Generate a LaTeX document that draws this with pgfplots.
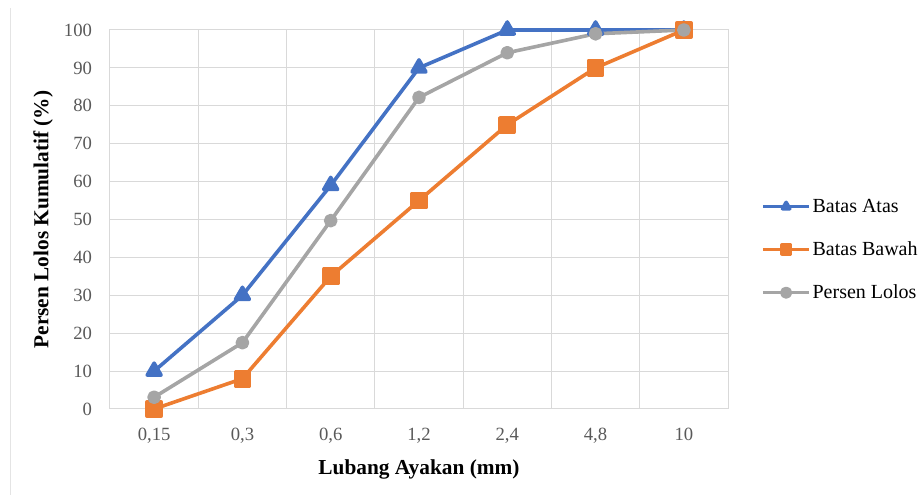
\documentclass[border=0pt]{standalone}
\usepackage{fontspec}
\setmainfont{Liberation Serif}
\usepackage{pgfplots}
\pgfplotsset{compat=1.18}
\definecolor{cA}{HTML}{4472C4}
\definecolor{cB}{HTML}{ED7D31}
\definecolor{cC}{HTML}{A5A5A5}
\definecolor{gridc}{HTML}{D9D9D9}
\definecolor{tickc}{HTML}{595959}
\begin{document}
\begin{tikzpicture}
\useasboundingbox (-82.5pt,-64.5pt) rectangle (606pt,306.75pt);
\draw[gridc!70, line width=0.75pt] (-74.25pt,300.75pt) -- (-74.25pt,-64.5pt);
\begin{axis}[
  at={(0,0)}, anchor=south west,
  scale only axis, width=463.5pt, height=284.25pt,
  xmin=-0.5, xmax=6.5, ymin=0, ymax=100,
  clip=false,
  xtick={0,1,2,3,4,5,6},
  xticklabels={{0,15},{0,3},{0,6},{1,2},{2,4},{4,8},{10}},
  minor xtick={-0.5,0.5,1.5,2.5,3.5,4.5,5.5,6.5},
  ytick={0,10,...,100},
  xmajorgrids=false, xminorgrids=true, ymajorgrids=true,
  grid style={gridc, line width=0.75pt},
  minor grid style={gridc, line width=0.75pt},
  axis line style={gridc, line width=0.75pt},
  major tick length=0pt, minor tick length=0pt,
  /pgf/number format/assume math mode=true,
  tick label style={font=\fontsize{14}{16}\selectfont, text=tickc},
  xticklabel style={yshift=-11pt},
  yticklabel style={xshift=-10pt},
  xlabel={\textbf{Lubang Ayakan (mm)}},
  ylabel={\textbf{Persen Lolos Kumulatif (\%)}},
  label style={font=\fontsize{16}{18}\selectfont},
  xlabel style={at={(axis description cs:0.5,-0.1583)}, anchor=center},
  ylabel style={at={(axis description cs:-0.108,0.5)}, anchor=center},
  legend style={at={(axis description cs:1.053,0.42)}, anchor=west, draw=none, fill=none,
    inner sep=0pt, row sep=16.5pt, font=\fontsize{15}{16}\selectfont,
    nodes={inner xsep=1pt}},
  legend cell align=left,
  legend image code/.code={\draw[mark repeat=2,mark phase=2,#1,mark size=3.2pt] plot coordinates {(0pt,0pt)(17.5pt,0pt)(35pt,0pt)};},
]
\addplot[cA, line width=2.7pt, line join=round, mark=triangle*, mark size=6pt, mark options={solid}]
  coordinates {(0,10)(1,30)(2,59)(3,90)(4,100)(5,100)(6,100)};
\addlegendentry{Batas Atas}
\addplot[cB, line width=2.7pt, line join=round, mark=square*, mark size=5.3pt, mark options={solid}]
  coordinates {(0,0)(1,8)(2,35)(3,55)(4,75)(5,90)(6,100)};
\addlegendentry{Batas Bawah}
\addplot[cC, line width=2.7pt, line join=round, mark=*, mark size=3.8pt, mark options={solid}]
  coordinates {(0,3.1)(1,17.5)(2,49.7)(3,82.2)(4,94)(5,99)(6,100)};
\addlegendentry{Persen Lolos}
\end{axis}
\end{tikzpicture}
\end{document}
